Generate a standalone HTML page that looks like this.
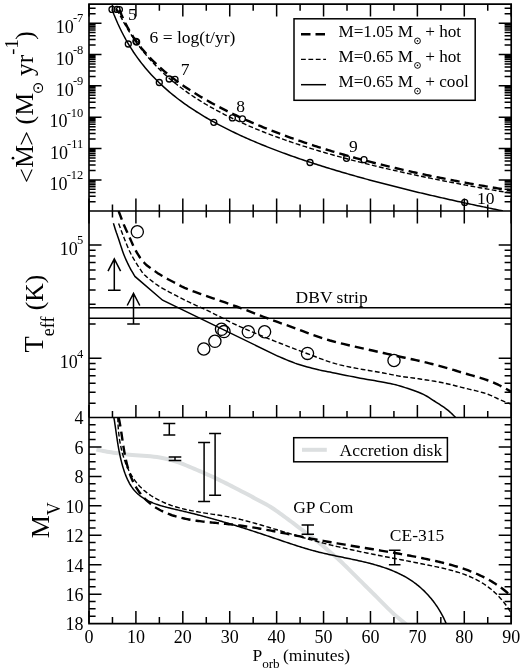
<!DOCTYPE html>
<html><head><meta charset="utf-8"><style>html,body{margin:0;padding:0;background:#fff;}svg{display:block;}text{filter:grayscale(1);}</style></head>
<body><svg width="523" height="670" viewBox="0 0 523 670">
<defs><clipPath id="c1"><rect x="89.0" y="4.1" width="422.2" height="206.9"/></clipPath><clipPath id="c2"><rect x="89.0" y="211.0" width="422.2" height="206.5"/></clipPath><clipPath id="c3"><rect x="89.0" y="417.5" width="422.2" height="206.10000000000002"/></clipPath></defs>
<rect width="523" height="670" fill="#fff"/>
<path d="M96.40 449.60 L97.33 449.78 L98.51 450.02 L99.91 450.31 L101.49 450.63 L103.24 450.97 L105.11 451.32 L107.07 451.67 L109.10 452.00 L111.21 452.33 L113.42 452.66 L115.76 453.00 L118.21 453.35 L120.77 453.70 L123.46 454.04 L126.27 454.37 L129.20 454.70 L132.37 455.00 L135.81 455.27 L139.45 455.53 L143.17 455.79 L146.88 456.06 L150.49 456.36 L153.89 456.70 L157.00 457.10 L159.78 457.54 L162.32 457.99 L164.68 458.46 L166.92 458.98 L169.11 459.53 L171.31 460.15 L173.58 460.84 L176.00 461.60 L178.54 462.46 L181.13 463.40 L183.76 464.42 L186.43 465.49 L189.10 466.61 L191.78 467.74 L194.45 468.88 L197.10 470.00 L199.73 471.12 L202.36 472.25 L204.98 473.40 L207.61 474.56 L210.23 475.74 L212.85 476.94 L215.48 478.16 L218.10 479.40 L220.76 480.68 L223.47 482.02 L226.20 483.38 L228.92 484.76 L231.60 486.13 L234.21 487.48 L236.72 488.77 L239.10 490.00 L241.34 491.16 L243.45 492.25 L245.46 493.31 L247.41 494.34 L249.31 495.35 L251.19 496.35 L253.08 497.37 L255.00 498.40 L256.94 499.43 L258.87 500.45 L260.78 501.45 L262.69 502.46 L264.59 503.48 L266.49 504.54 L268.39 505.64 L270.30 506.80 L272.21 508.02 L274.12 509.29 L276.04 510.61 L277.95 511.96 L279.86 513.33 L281.78 514.71 L283.69 516.11 L285.60 517.50 L287.51 518.90 L289.43 520.32 L291.34 521.75 L293.25 523.20 L295.16 524.65 L297.07 526.11 L298.99 527.56 L300.90 529.00 L302.81 530.43 L304.72 531.85 L306.64 533.26 L308.55 534.68 L310.46 536.10 L312.37 537.54 L314.29 539.01 L316.20 540.50 L318.14 542.05 L320.13 543.66 L322.14 545.31 L324.14 546.97 L326.10 548.61 L328.00 550.21 L329.81 551.75 L331.50 553.20 L333.01 554.50 L334.35 555.64 L335.56 556.70 L336.73 557.73 L337.91 558.79 L339.18 559.95 L340.58 561.27 L342.20 562.80 L344.04 564.57 L346.04 566.53 L348.17 568.63 L350.39 570.83 L352.66 573.09 L354.95 575.37 L357.21 577.62 L359.40 579.80 L361.55 581.93 L363.70 584.07 L365.85 586.21 L368.00 588.34 L370.15 590.48 L372.30 592.62 L374.45 594.76 L376.60 596.90 L378.78 599.08 L381.01 601.33 L383.25 603.60 L385.48 605.86 L387.68 608.07 L389.82 610.19 L391.87 612.18 L393.80 614.00 L395.69 615.70 L397.59 617.34 L399.45 618.88 L401.22 620.32 L402.87 621.62 L404.32 622.77 L405.55 623.74 L406.50 624.50" fill="none" stroke="#dcdfe0" stroke-width="4" stroke-linejoin="round" clip-path="url(#c3)"/>
<path d="M112.00 9.45 L113.96 14.52 L115.93 19.27 L117.89 23.74 L119.86 27.97 L121.82 31.96 L123.79 35.76 L125.75 39.36 L127.72 42.79 L129.68 46.07 L131.65 49.20 L133.61 52.21 L135.58 55.09 L137.54 57.85 L139.51 60.51 L141.47 63.08 L143.44 65.55 L145.40 67.94 L147.37 70.25 L149.33 72.49 L151.30 74.65 L153.26 76.76 L155.23 78.79 L157.19 80.77 L159.16 82.70 L161.12 84.57 L163.09 86.40 L165.05 88.17 L167.02 89.91 L168.98 91.60 L170.94 93.25 L172.91 94.86 L174.87 96.43 L176.84 97.97 L178.80 99.48 L180.77 100.95 L182.73 102.40 L184.70 103.81 L186.66 105.20 L188.63 106.56 L190.59 107.90 L192.56 109.21 L194.52 110.49 L196.49 111.75 L198.45 112.99 L200.42 114.21 L202.38 115.41 L204.35 116.59 L206.31 117.75 L208.28 118.89 L210.24 120.02 L212.21 121.12 L214.17 122.21 L216.14 123.28 L218.10 124.34 L220.07 125.38 L222.03 126.41 L223.99 127.43 L225.96 128.43 L227.92 129.41 L229.89 130.39 L231.85 131.35 L233.82 132.30 L235.78 133.23 L237.75 134.16 L239.71 135.07 L241.68 135.97 L243.64 136.87 L245.61 137.75 L247.57 138.62 L249.54 139.48 L251.50 140.33 L253.47 141.18 L255.43 142.01 L257.40 142.84 L259.36 143.65 L261.33 144.46 L263.29 145.26 L265.26 146.05 L267.22 146.84 L269.19 147.61 L271.15 148.38 L273.12 149.14 L275.08 149.90 L277.05 150.64 L279.01 151.38 L280.97 152.12 L282.94 152.84 L284.90 153.56 L286.87 154.28 L288.83 154.99 L290.80 155.69 L292.76 156.38 L294.73 157.07 L296.69 157.76 L298.66 158.44 L300.62 159.11 L302.59 159.78 L304.55 160.44 L306.52 161.10 L308.48 161.75 L310.45 162.40 L312.41 163.04 L314.38 163.68 L316.34 164.32 L318.31 164.94 L320.27 165.57 L322.24 166.19 L324.20 166.80 L326.17 167.42 L328.13 168.02 L330.10 168.63 L332.06 169.22 L334.03 169.82 L335.99 170.41 L337.95 171.00 L339.92 171.58 L341.88 172.16 L343.85 172.74 L345.81 173.31 L347.78 173.88 L349.74 174.44 L351.71 175.01 L353.67 175.56 L355.64 176.12 L357.60 176.67 L359.57 177.22 L361.53 177.77 L363.50 178.31 L365.46 178.85 L367.43 179.38 L369.39 179.92 L371.36 180.45 L373.32 180.98 L375.29 181.50 L377.25 182.02 L379.22 182.54 L381.18 183.06 L383.15 183.57 L385.11 184.08 L387.08 184.59 L389.04 185.10 L391.01 185.60 L392.97 186.10 L394.93 186.60 L396.90 187.09 L398.86 187.59 L400.83 188.08 L402.79 188.57 L404.76 189.05 L406.72 189.54 L408.69 190.02 L410.65 190.50 L412.62 190.98 L414.58 191.45 L416.55 191.92 L418.51 192.40 L420.48 192.86 L422.44 193.33 L424.41 193.80 L426.37 194.26 L428.34 194.72 L430.30 195.18 L432.27 195.63 L434.23 196.09 L436.20 196.54 L438.16 196.99 L440.13 197.44 L442.09 197.89 L444.06 198.33 L446.02 198.78 L447.98 199.22 L449.95 199.66 L451.91 200.10 L453.88 200.54 L455.84 200.97 L457.81 201.40 L459.77 201.84 L461.74 202.27 L463.70 202.69 L465.67 203.12 L467.63 203.55 L469.60 203.97 L471.56 204.39 L473.53 204.81 L475.49 205.23 L477.46 205.65 L479.42 206.07 L481.39 206.48 L483.35 206.89 L485.32 207.30 L487.28 207.71 L489.25 208.12 L491.21 208.53 L493.18 208.94 L495.14 209.34 L497.11 209.75 L499.07 210.15 L501.04 210.55 L503.00 210.95" fill="none" stroke="#000" stroke-width="1.5" clip-path="url(#c1)"/>
<path d="M117.00 9.29 L118.98 13.35 L120.96 17.23 L122.95 20.94 L124.93 24.49 L126.91 27.90 L128.89 31.17 L130.88 34.32 L132.86 37.34 L134.84 40.25 L136.82 43.06 L138.81 45.76 L140.79 48.38 L142.77 50.90 L144.75 53.35 L146.74 55.71 L148.72 58.01 L150.70 60.23 L152.68 62.39 L154.67 64.49 L156.65 66.53 L158.63 68.51 L160.61 70.44 L162.60 72.32 L164.58 74.15 L166.56 75.93 L168.54 77.67 L170.53 79.37 L172.51 81.03 L174.49 82.66 L176.47 84.24 L178.45 85.79 L180.44 87.31 L182.42 88.79 L184.40 90.25 L186.38 91.67 L188.37 93.06 L190.35 94.43 L192.33 95.77 L194.31 97.09 L196.30 98.38 L198.28 99.64 L200.26 100.89 L202.24 102.11 L204.23 103.31 L206.21 104.49 L208.19 105.65 L210.17 106.79 L212.16 107.91 L214.14 109.02 L216.12 110.10 L218.10 111.17 L220.09 112.22 L222.07 113.26 L224.05 114.28 L226.03 115.29 L228.02 116.28 L230.00 117.25 L231.98 118.22 L233.96 119.17 L235.94 120.10 L237.93 121.03 L239.91 121.94 L241.89 122.84 L243.87 123.72 L245.86 124.60 L247.84 125.46 L249.82 126.32 L251.80 127.16 L253.79 127.99 L255.77 128.82 L257.75 129.63 L259.73 130.43 L261.72 131.23 L263.70 132.01 L265.68 132.79 L267.66 133.55 L269.65 134.31 L271.63 135.06 L273.61 135.81 L275.59 136.54 L277.58 137.27 L279.56 137.98 L281.54 138.70 L283.52 139.40 L285.51 140.10 L287.49 140.78 L289.47 141.47 L291.45 142.14 L293.43 142.81 L295.42 143.48 L297.40 144.13 L299.38 144.78 L301.36 145.43 L303.35 146.06 L305.33 146.70 L307.31 147.32 L309.29 147.94 L311.28 148.56 L313.26 149.17 L315.24 149.77 L317.22 150.37 L319.21 150.97 L321.19 151.56 L323.17 152.14 L325.15 152.72 L327.14 153.30 L329.12 153.87 L331.10 154.43 L333.08 154.99 L335.07 155.55 L337.05 156.10 L339.03 156.65 L341.01 157.19 L342.99 157.73 L344.98 158.27 L346.96 158.80 L348.94 159.33 L350.92 159.85 L352.91 160.37 L354.89 160.88 L356.87 161.40 L358.85 161.90 L360.84 162.41 L362.82 162.91 L364.80 163.41 L366.78 163.90 L368.77 164.39 L370.75 164.88 L372.73 165.36 L374.71 165.85 L376.70 166.32 L378.68 166.80 L380.66 167.27 L382.64 167.74 L384.63 168.20 L386.61 168.67 L388.59 169.13 L390.57 169.58 L392.56 170.04 L394.54 170.49 L396.52 170.94 L398.50 171.38 L400.48 171.82 L402.47 172.27 L404.45 172.70 L406.43 173.14 L408.41 173.57 L410.40 174.00 L412.38 174.43 L414.36 174.85 L416.34 175.28 L418.33 175.70 L420.31 176.11 L422.29 176.53 L424.27 176.94 L426.26 177.35 L428.24 177.76 L430.22 178.17 L432.20 178.57 L434.19 178.98 L436.17 179.38 L438.15 179.77 L440.13 180.17 L442.12 180.56 L444.10 180.96 L446.08 181.35 L448.06 181.73 L450.05 182.12 L452.03 182.50 L454.01 182.89 L455.99 183.27 L457.97 183.64 L459.96 184.02 L461.94 184.39 L463.92 184.77 L465.90 185.14 L467.89 185.51 L469.87 185.88 L471.85 186.24 L473.83 186.61 L475.82 186.97 L477.80 187.33 L479.78 187.69 L481.76 188.04 L483.75 188.40 L485.73 188.76 L487.71 189.11 L489.69 189.46 L491.68 189.81 L493.66 190.16 L495.64 190.50 L497.62 190.85 L499.61 191.19 L501.59 191.53 L503.57 191.87 L505.55 192.21 L507.54 192.55 L509.52 192.89 L511.50 193.22" fill="none" stroke="#000" stroke-width="1.4" stroke-dasharray="4.8 2.4" clip-path="url(#c1)"/>
<path d="M119.40 9.66 L121.37 14.55 L123.34 19.00 L125.31 23.10 L127.28 26.89 L129.25 30.41 L131.22 33.71 L133.19 36.81 L135.16 39.74 L137.13 42.51 L139.10 45.15 L141.07 47.67 L143.04 50.07 L145.01 52.38 L146.98 54.60 L148.96 56.74 L150.93 58.80 L152.90 60.79 L154.87 62.73 L156.84 64.60 L158.81 66.42 L160.78 68.18 L162.75 69.91 L164.72 71.58 L166.69 73.22 L168.66 74.82 L170.63 76.38 L172.60 77.90 L174.57 79.40 L176.54 80.86 L178.51 82.29 L180.48 83.70 L182.45 85.07 L184.42 86.43 L186.39 87.76 L188.36 89.06 L190.33 90.34 L192.30 91.61 L194.27 92.85 L196.24 94.07 L198.21 95.27 L200.18 96.46 L202.15 97.62 L204.13 98.77 L206.10 99.90 L208.07 101.02 L210.04 102.12 L212.01 103.21 L213.98 104.28 L215.95 105.34 L217.92 106.38 L219.89 107.41 L221.86 108.43 L223.83 109.43 L225.80 110.42 L227.77 111.40 L229.74 112.37 L231.71 113.33 L233.68 114.28 L235.65 115.21 L237.62 116.14 L239.59 117.05 L241.56 117.95 L243.53 118.85 L245.50 119.73 L247.47 120.61 L249.44 121.47 L251.41 122.33 L253.38 123.18 L255.35 124.01 L257.32 124.85 L259.29 125.67 L261.27 126.48 L263.24 127.29 L265.21 128.08 L267.18 128.87 L269.15 129.66 L271.12 130.43 L273.09 131.20 L275.06 131.96 L277.03 132.71 L279.00 133.46 L280.97 134.19 L282.94 134.93 L284.91 135.65 L286.88 136.37 L288.85 137.08 L290.82 137.79 L292.79 138.49 L294.76 139.18 L296.73 139.87 L298.70 140.55 L300.67 141.23 L302.64 141.90 L304.61 142.56 L306.58 143.22 L308.55 143.87 L310.52 144.52 L312.49 145.16 L314.46 145.80 L316.44 146.43 L318.41 147.05 L320.38 147.67 L322.35 148.29 L324.32 148.90 L326.29 149.51 L328.26 150.11 L330.23 150.70 L332.20 151.30 L334.17 151.88 L336.14 152.46 L338.11 153.04 L340.08 153.62 L342.05 154.18 L344.02 154.75 L345.99 155.31 L347.96 155.86 L349.93 156.42 L351.90 156.96 L353.87 157.51 L355.84 158.04 L357.81 158.58 L359.78 159.11 L361.75 159.64 L363.72 160.16 L365.69 160.68 L367.66 161.19 L369.63 161.71 L371.61 162.21 L373.58 162.72 L375.55 163.22 L377.52 163.71 L379.49 164.21 L381.46 164.70 L383.43 165.18 L385.40 165.67 L387.37 166.15 L389.34 166.62 L391.31 167.09 L393.28 167.56 L395.25 168.03 L397.22 168.49 L399.19 168.95 L401.16 169.41 L403.13 169.86 L405.10 170.31 L407.07 170.75 L409.04 171.20 L411.01 171.64 L412.98 172.08 L414.95 172.51 L416.92 172.94 L418.89 173.37 L420.86 173.80 L422.83 174.22 L424.80 174.64 L426.77 175.05 L428.75 175.47 L430.72 175.88 L432.69 176.29 L434.66 176.69 L436.63 177.10 L438.60 177.50 L440.57 177.90 L442.54 178.29 L444.51 178.68 L446.48 179.07 L448.45 179.46 L450.42 179.85 L452.39 180.23 L454.36 180.61 L456.33 180.99 L458.30 181.36 L460.27 181.73 L462.24 182.10 L464.21 182.47 L466.18 182.84 L468.15 183.20 L470.12 183.56 L472.09 183.92 L474.06 184.27 L476.03 184.63 L478.00 184.98 L479.97 185.33 L481.94 185.67 L483.92 186.02 L485.89 186.36 L487.86 186.70 L489.83 187.04 L491.80 187.37 L493.77 187.71 L495.74 188.04 L497.71 188.37 L499.68 188.70 L501.65 189.02 L503.62 189.35 L505.59 189.67 L507.56 189.99 L509.53 190.30 L511.50 190.62" fill="none" stroke="#000" stroke-width="2.4" stroke-dasharray="9.2 5.1" clip-path="url(#c1)"/>
<g fill="none" stroke="#000" stroke-width="1.3"><circle cx="112.0" cy="9.4" r="3.0"/><circle cx="117.0" cy="9.4" r="3.0"/><circle cx="119.4" cy="9.6" r="3.0"/><circle cx="128.3" cy="44.0" r="3.0"/><circle cx="135.9" cy="41.3" r="3.0"/><circle cx="136.6" cy="42.0" r="3.0"/><circle cx="159.3" cy="82.5" r="3.0"/><circle cx="169.2" cy="79.0" r="3.0"/><circle cx="175.0" cy="79.3" r="3.0"/><circle cx="213.8" cy="122.3" r="3.0"/><circle cx="232.4" cy="117.9" r="3.0"/><circle cx="242.4" cy="118.8" r="3.0"/><circle cx="310.0" cy="162.5" r="3.0"/><circle cx="346.5" cy="158.3" r="3.0"/><circle cx="364.0" cy="159.7" r="3.0"/><circle cx="464.7" cy="202.4" r="3.0"/></g>
<path d="M113.40 223.20 L113.60 223.86 L113.88 224.75 L114.21 225.82 L114.58 226.99 L114.95 228.21 L115.33 229.41 L115.69 230.53 L116.00 231.50 L116.25 232.26 L116.45 232.84 L116.63 233.32 L116.80 233.79 L117.00 234.33 L117.25 235.03 L117.57 235.95 L118.00 237.20 L118.54 238.83 L119.19 240.80 L119.90 243.01 L120.67 245.37 L121.47 247.78 L122.27 250.15 L123.05 252.39 L123.80 254.40 L124.52 256.22 L125.24 257.95 L125.96 259.60 L126.67 261.19 L127.39 262.71 L128.10 264.18 L128.80 265.61 L129.50 267.00 L130.23 268.39 L131.00 269.80 L131.78 271.17 L132.56 272.49 L133.28 273.70 L133.94 274.79 L134.49 275.70 L134.90 276.40 L162.60 300.20 L278.20 356.30 L279.68 356.91 L281.65 357.74 L284.00 358.73 L286.61 359.82 L289.36 360.95 L292.16 362.06 L294.87 363.10 L297.40 364.00 L299.83 364.79 L302.31 365.55 L304.82 366.27 L307.31 366.96 L309.75 367.60 L312.12 368.21 L314.38 368.77 L316.50 369.30 L318.36 369.75 L319.96 370.11 L321.39 370.42 L322.77 370.69 L324.21 370.97 L325.82 371.28 L327.71 371.64 L330.00 372.10 L332.71 372.65 L335.77 373.28 L339.08 373.96 L342.58 374.68 L346.17 375.40 L349.80 376.13 L353.36 376.84 L356.80 377.50 L360.21 378.14 L363.72 378.77 L367.27 379.39 L370.79 380.01 L374.24 380.61 L377.54 381.19 L380.65 381.76 L383.50 382.30 L386.02 382.79 L388.23 383.21 L390.22 383.60 L392.08 383.98 L393.90 384.38 L395.77 384.83 L397.77 385.36 L400.00 386.00 L402.50 386.76 L405.20 387.61 L408.04 388.53 L410.93 389.51 L413.78 390.52 L416.53 391.54 L419.10 392.54 L421.40 393.50 L423.42 394.43 L425.23 395.35 L426.86 396.26 L428.39 397.18 L429.84 398.11 L431.28 399.05 L432.75 400.01 L434.30 401.00 L435.93 402.03 L437.60 403.09 L439.29 404.17 L440.96 405.27 L442.60 406.37 L444.19 407.47 L445.70 408.55 L447.10 409.60 L448.44 410.68 L449.77 411.83 L451.05 413.00 L452.25 414.14 L453.35 415.21 L454.33 416.18 L455.16 416.99 L455.80 417.60" fill="none" stroke="#000" stroke-width="1.5" clip-path="url(#c2)"/>
<path d="M118.60 223.40 L119.00 224.46 L119.52 225.88 L120.15 227.56 L120.84 229.44 L121.58 231.42 L122.34 233.43 L123.09 235.38 L123.80 237.20 L124.48 238.94 L125.18 240.71 L125.87 242.48 L126.58 244.25 L127.30 246.00 L128.02 247.72 L128.76 249.39 L129.50 251.00 L130.25 252.54 L131.00 254.02 L131.77 255.45 L132.54 256.84 L133.32 258.22 L134.13 259.60 L134.95 260.99 L135.80 262.40 L136.73 263.91 L137.77 265.54 L138.85 267.21 L139.94 268.86 L140.98 270.43 L141.92 271.83 L142.71 273.01 L143.30 273.90 L143.81 274.34 L144.47 274.91 L145.25 275.59 L146.14 276.36 L147.10 277.17 L148.11 278.02 L149.15 278.87 L150.20 279.70 L151.25 280.52 L152.32 281.35 L153.42 282.21 L154.57 283.09 L155.79 283.99 L157.10 284.90 L158.49 285.84 L160.00 286.80 L161.65 287.79 L163.44 288.82 L165.33 289.89 L167.31 290.96 L169.32 292.04 L171.35 293.12 L173.35 294.17 L175.30 295.20 L177.21 296.20 L179.12 297.19 L181.04 298.17 L182.95 299.14 L184.86 300.10 L186.78 301.05 L188.69 301.98 L190.60 302.90 L192.51 303.80 L194.42 304.66 L196.34 305.52 L198.25 306.36 L200.16 307.20 L202.07 308.04 L203.99 308.91 L205.90 309.80 L207.81 310.72 L209.72 311.65 L211.64 312.60 L213.55 313.56 L215.46 314.52 L217.38 315.48 L219.29 316.45 L221.20 317.40 L223.02 318.32 L224.72 319.19 L226.36 320.05 L228.03 320.91 L229.80 321.81 L231.75 322.78 L233.96 323.83 L236.50 325.00 L239.33 326.28 L242.36 327.63 L245.59 329.06 L249.03 330.56 L252.68 332.12 L256.54 333.75 L260.61 335.45 L264.90 337.20 L269.56 339.07 L274.65 341.10 L280.05 343.23 L285.61 345.40 L291.20 347.57 L296.71 349.67 L301.98 351.67 L306.90 353.50 L311.39 355.18 L315.56 356.77 L319.51 358.28 L323.36 359.71 L327.22 361.08 L331.20 362.40 L335.43 363.67 L340.00 364.90 L345.12 366.10 L350.78 367.27 L356.74 368.39 L362.79 369.46 L368.71 370.47 L374.28 371.40 L379.28 372.24 L383.50 373.00 L386.82 373.64 L389.41 374.15 L391.45 374.57 L393.13 374.92 L394.64 375.23 L396.16 375.53 L397.89 375.84 L400.00 376.20 L402.44 376.58 L405.01 376.95 L407.67 377.31 L410.39 377.68 L413.16 378.04 L415.94 378.41 L418.69 378.80 L421.40 379.20 L424.07 379.61 L426.75 380.02 L429.42 380.44 L432.10 380.86 L434.77 381.31 L437.45 381.77 L440.12 382.27 L442.80 382.80 L445.47 383.37 L448.15 383.98 L450.82 384.62 L453.49 385.28 L456.17 385.96 L458.84 386.64 L461.52 387.32 L464.20 388.00 L466.93 388.67 L469.72 389.33 L472.55 390.00 L475.36 390.67 L478.12 391.35 L480.79 392.05 L483.33 392.76 L485.70 393.50 L487.91 394.28 L489.98 395.10 L491.95 395.96 L493.81 396.82 L495.60 397.67 L497.31 398.50 L498.97 399.28 L500.60 400.00 L502.23 400.68 L503.86 401.35 L505.46 402.00 L506.98 402.61 L508.39 403.16 L509.64 403.66 L510.69 404.07 L511.50 404.40" fill="none" stroke="#000" stroke-width="1.4" stroke-dasharray="4.8 2.4" clip-path="url(#c2)"/>
<path d="M118.60 211.00 L119.00 212.06 L119.52 213.47 L120.15 215.15 L120.84 217.01 L121.58 218.98 L122.34 220.95 L123.09 222.85 L123.80 224.60 L124.49 226.23 L125.20 227.85 L125.92 229.45 L126.65 231.03 L127.38 232.60 L128.10 234.15 L128.81 235.68 L129.50 237.20 L130.17 238.70 L130.81 240.18 L131.44 241.65 L132.06 243.09 L132.69 244.52 L133.33 245.94 L134.00 247.33 L134.70 248.70 L135.44 250.07 L136.21 251.45 L137.01 252.83 L137.82 254.17 L138.63 255.48 L139.44 256.73 L140.23 257.91 L141.00 259.00 L141.78 260.02 L142.60 261.00 L143.43 261.93 L144.24 262.79 L145.01 263.57 L145.69 264.26 L146.26 264.84 L146.70 265.30 L147.71 266.02 L149.04 266.99 L150.63 268.15 L152.39 269.43 L154.28 270.77 L156.22 272.12 L158.15 273.42 L160.00 274.60 L161.82 275.70 L163.68 276.79 L165.59 277.86 L167.53 278.93 L169.47 279.97 L171.43 281.00 L173.37 282.01 L175.30 283.00 L177.00 283.90 L178.41 284.69 L179.69 285.43 L181.04 286.16 L182.62 286.96 L184.62 287.88 L187.22 288.97 L190.60 290.30 L194.95 291.92 L200.20 293.80 L206.09 295.86 L212.37 298.04 L218.81 300.27 L225.14 302.47 L231.12 304.57 L236.50 306.50 L241.43 308.32 L246.20 310.12 L250.80 311.88 L255.21 313.58 L259.41 315.21 L263.39 316.75 L267.12 318.19 L270.60 319.50 L273.59 320.61 L276.00 321.49 L278.05 322.22 L279.93 322.88 L281.86 323.55 L284.05 324.31 L286.69 325.23 L290.00 326.40 L293.92 327.83 L298.24 329.46 L302.90 331.23 L307.87 333.10 L313.11 335.01 L318.57 336.92 L324.21 338.76 L330.00 340.50 L336.29 342.20 L343.29 343.94 L350.70 345.69 L358.22 347.40 L365.55 349.03 L372.41 350.53 L378.49 351.87 L383.50 353.00 L387.30 353.88 L390.11 354.52 L392.18 354.99 L393.76 355.34 L395.08 355.63 L396.40 355.91 L397.96 356.25 L400.00 356.70 L402.44 357.23 L405.01 357.79 L407.67 358.36 L410.39 358.94 L413.16 359.54 L415.94 360.15 L418.69 360.77 L421.40 361.40 L424.07 362.03 L426.75 362.68 L429.42 363.33 L432.10 363.99 L434.77 364.67 L437.45 365.36 L440.12 366.07 L442.80 366.80 L445.47 367.55 L448.15 368.33 L450.82 369.13 L453.49 369.94 L456.17 370.76 L458.84 371.58 L461.52 372.39 L464.20 373.20 L466.96 374.01 L469.82 374.85 L472.73 375.69 L475.62 376.53 L478.42 377.35 L481.08 378.15 L483.53 378.90 L485.70 379.60 L487.57 380.24 L489.19 380.82 L490.60 381.37 L491.86 381.88 L493.02 382.38 L494.13 382.87 L495.24 383.38 L496.40 383.90 L497.58 384.44 L498.72 384.99 L499.83 385.53 L500.91 386.08 L501.95 386.62 L502.96 387.16 L503.94 387.69 L504.90 388.20 L505.86 388.72 L506.84 389.27 L507.80 389.83 L508.73 390.37 L509.59 390.88 L510.36 391.33 L511.00 391.71 L511.50 392.00" fill="none" stroke="#000" stroke-width="2.4" stroke-dasharray="9.2 5.1" clip-path="url(#c2)"/>
<g fill="none" stroke="#000" stroke-width="1.3"><circle cx="137.3" cy="231.8" r="6.1"/><circle cx="203.8" cy="349" r="6.1"/><circle cx="214.9" cy="341.3" r="6.1"/><circle cx="221.5" cy="329.3" r="6.1"/><circle cx="224" cy="331.6" r="6.1"/><circle cx="248.3" cy="331.8" r="6.1"/><circle cx="264.6" cy="331.8" r="6.1"/><circle cx="307.5" cy="353.4" r="6.1"/><circle cx="394" cy="360.5" r="6.1"/></g>
<path d="M89.0 307.8H511.2M89.0 318.3H511.2" stroke="#000" stroke-width="1.5"/>
<path d="M114.3 290.2V258.8M108 271.2L114.3 258.8L120.6 271.2M108 290.2H120.6M133.5 324V293.3M127.2 305.5L133.5 293.3L139.8 305.5M127.2 324H139.8" fill="none" stroke="#000" stroke-width="1.5"/>
<path d="M113.89 417.56 L114.13 419.02 L114.37 420.48 L114.59 421.92 L114.81 423.36 L115.02 424.78 L115.23 426.20 L115.44 427.61 L115.64 429.01 L115.84 430.41 L116.04 431.80 L116.24 433.18 L116.43 434.56 L116.63 435.94 L116.83 437.31 L117.04 438.68 L117.24 440.05 L117.45 441.42 L117.67 442.79 L117.89 444.16 L118.11 445.53 L118.35 446.91 L118.59 448.28 L118.84 449.66 L119.10 451.04 L119.37 452.43 L119.65 453.82 L119.94 455.22 L120.24 456.63 L120.56 458.04 L120.89 459.47 L121.24 460.90 L121.60 462.34 L121.98 463.78 L122.37 465.22 L122.79 466.67 L123.22 468.12 L123.67 469.56 L124.14 470.99 L124.64 472.42 L125.15 473.84 L125.69 475.24 L126.25 476.63 L126.84 478.00 L127.45 479.35 L128.09 480.68 L128.75 481.98 L129.44 483.26 L130.16 484.51 L130.91 485.73 L131.69 486.92 L132.50 488.07 L133.35 489.18 L134.22 490.25 L135.13 491.29 L136.07 492.28 L137.04 493.23 L138.04 494.14 L139.07 495.02 L140.13 495.86 L141.22 496.67 L142.33 497.44 L143.46 498.18 L144.63 498.89 L145.81 499.57 L147.02 500.22 L148.24 500.84 L149.49 501.44 L150.76 502.01 L152.04 502.56 L153.34 503.09 L154.66 503.59 L155.99 504.08 L157.33 504.55 L158.69 505.00 L160.06 505.43 L161.44 505.85 L162.83 506.25 L164.23 506.64 L165.64 507.02 L167.05 507.39 L168.47 507.75 L169.90 508.10 L171.32 508.44 L172.75 508.78 L174.18 509.12 L175.62 509.45 L177.05 509.78 L178.48 510.11 L179.91 510.44 L181.33 510.77 L182.75 511.11 L184.17 511.44 L185.58 511.78 L186.99 512.12 L188.40 512.46 L189.80 512.81 L191.20 513.16 L192.60 513.50 L193.99 513.85 L195.38 514.21 L196.77 514.56 L198.16 514.92 L199.54 515.28 L200.92 515.64 L202.30 516.00 L203.68 516.37 L205.05 516.74 L206.42 517.11 L207.79 517.48 L209.16 517.85 L210.52 518.23 L211.89 518.60 L213.25 518.98 L214.61 519.37 L215.97 519.75 L217.32 520.14 L218.68 520.52 L220.03 520.91 L221.39 521.31 L222.74 521.70 L224.09 522.10 L225.44 522.50 L226.79 522.90 L228.14 523.30 L229.49 523.70 L230.84 524.11 L232.19 524.52 L233.53 524.93 L234.88 525.34 L236.23 525.76 L237.57 526.18 L238.92 526.59 L240.27 527.02 L241.61 527.44 L242.96 527.86 L244.31 528.29 L245.66 528.72 L247.00 529.15 L248.35 529.59 L249.70 530.02 L251.05 530.46 L252.41 530.90 L253.76 531.34 L255.11 531.78 L256.47 532.23 L257.82 532.68 L259.18 533.13 L260.54 533.58 L261.90 534.03 L263.26 534.49 L264.63 534.95 L265.99 535.41 L267.36 535.87 L268.73 536.33 L270.10 536.79 L271.47 537.26 L272.84 537.72 L274.21 538.19 L275.58 538.65 L276.96 539.12 L278.33 539.58 L279.70 540.05 L281.07 540.51 L282.44 540.97 L283.81 541.43 L285.18 541.89 L286.55 542.35 L287.92 542.81 L289.28 543.26 L290.65 543.71 L292.01 544.16 L293.37 544.60 L294.73 545.04 L296.08 545.48 L297.44 545.92 L298.79 546.35 L300.13 546.77 L301.48 547.19 L302.82 547.61 L304.16 548.02 L305.50 548.43 L306.84 548.83 L308.18 549.22 L309.52 549.61 L310.86 549.99 L312.21 550.37 L313.55 550.74 L314.91 551.10 L316.27 551.46 L317.63 551.81 L319.01 552.15 L320.38 552.48 L321.76 552.82 L323.15 553.14 L324.53 553.46 L325.93 553.78 L327.32 554.09 L328.72 554.40 L330.13 554.70 L331.53 555.00 L332.94 555.30 L334.35 555.60 L335.77 555.90 L337.18 556.19 L338.60 556.48 L340.02 556.77 L341.44 557.06 L342.86 557.35 L344.29 557.64 L345.71 557.94 L347.13 558.23 L348.56 558.52 L349.98 558.82 L351.41 559.12 L352.83 559.42 L354.25 559.72 L355.68 560.02 L357.10 560.33 L358.52 560.65 L359.93 560.97 L361.35 561.29 L362.76 561.62 L364.17 561.95 L365.58 562.29 L366.99 562.63 L368.39 562.99 L369.79 563.34 L371.19 563.71 L372.58 564.08 L373.97 564.46 L375.35 564.85 L376.73 565.25 L378.11 565.66 L379.48 566.08 L380.84 566.50 L382.20 566.94 L383.56 567.39 L384.91 567.85 L386.25 568.32 L387.58 568.80 L388.91 569.29 L390.24 569.80 L391.55 570.32 L392.86 570.85 L394.16 571.39 L395.45 571.95 L396.74 572.52 L398.01 573.11 L399.28 573.72 L400.54 574.33 L401.79 574.97 L403.04 575.62 L404.27 576.28 L405.49 576.97 L406.70 577.67 L407.91 578.38 L409.10 579.12 L410.28 579.87 L411.45 580.65 L412.61 581.44 L413.76 582.25 L414.90 583.08 L416.03 583.93 L417.14 584.80 L418.24 585.69 L419.33 586.60 L420.41 587.52 L421.47 588.47 L422.52 589.43 L423.56 590.41 L424.58 591.41 L425.59 592.42 L426.59 593.45 L427.57 594.49 L428.53 595.56 L429.48 596.63 L430.42 597.72 L431.34 598.83 L432.24 599.95 L433.13 601.08 L434.00 602.23 L434.86 603.38 L435.70 604.56 L436.52 605.74 L437.32 606.94 L438.11 608.14 L438.88 609.36 L439.63 610.59 L440.36 611.83 L441.08 613.08 L441.77 614.34 L442.45 615.61 L443.10 616.89 L443.74 618.17 L444.36 619.47 L444.96 620.77 L445.53 622.08 L446.09 623.40 L446.63 624.72" fill="none" stroke="#000" stroke-width="1.5" clip-path="url(#c3)"/>
<path d="M117.88 417.37 L117.88 418.88 L117.91 420.40 L117.95 421.94 L118.01 423.48 L118.08 425.04 L118.17 426.61 L118.27 428.19 L118.40 429.77 L118.54 431.37 L118.70 432.97 L118.88 434.57 L119.07 436.18 L119.29 437.79 L119.52 439.40 L119.78 441.02 L120.05 442.63 L120.35 444.24 L120.67 445.85 L121.00 447.46 L121.36 449.06 L121.74 450.66 L122.15 452.25 L122.57 453.84 L123.02 455.41 L123.49 456.98 L123.99 458.54 L124.51 460.08 L125.05 461.61 L125.62 463.13 L126.21 464.64 L126.83 466.12 L127.47 467.60 L128.14 469.05 L128.84 470.49 L129.56 471.90 L130.32 473.30 L131.09 474.68 L131.90 476.03 L132.73 477.35 L133.60 478.66 L134.49 479.94 L135.41 481.19 L136.36 482.41 L137.34 483.60 L138.35 484.77 L139.39 485.90 L140.46 487.01 L141.55 488.09 L142.67 489.14 L143.82 490.16 L144.99 491.15 L146.19 492.12 L147.41 493.06 L148.65 493.97 L149.92 494.86 L151.21 495.73 L152.51 496.56 L153.84 497.37 L155.18 498.16 L156.55 498.92 L157.93 499.66 L159.32 500.38 L160.73 501.07 L162.16 501.74 L163.60 502.39 L165.05 503.01 L166.52 503.61 L168.00 504.19 L169.48 504.75 L170.98 505.29 L172.49 505.81 L174.00 506.31 L175.52 506.79 L177.05 507.25 L178.58 507.69 L180.12 508.11 L181.67 508.51 L183.22 508.90 L184.77 509.27 L186.33 509.63 L187.89 509.97 L189.46 510.30 L191.03 510.62 L192.60 510.93 L194.18 511.23 L195.75 511.52 L197.33 511.80 L198.91 512.07 L200.50 512.33 L202.08 512.59 L203.67 512.85 L205.25 513.10 L206.84 513.34 L208.43 513.59 L210.01 513.83 L211.60 514.07 L213.18 514.32 L214.77 514.56 L216.35 514.81 L217.93 515.05 L219.51 515.31 L221.09 515.56 L222.66 515.83 L224.23 516.10 L225.80 516.37 L227.36 516.66 L228.93 516.95 L230.48 517.26 L232.03 517.57 L233.58 517.90 L235.13 518.23 L236.67 518.57 L238.21 518.93 L239.74 519.29 L241.27 519.66 L242.80 520.03 L244.33 520.42 L245.85 520.81 L247.37 521.21 L248.89 521.61 L250.41 522.02 L251.93 522.44 L253.44 522.86 L254.96 523.29 L256.47 523.71 L257.99 524.15 L259.50 524.59 L261.01 525.03 L262.53 525.47 L264.04 525.92 L265.56 526.36 L267.07 526.81 L268.59 527.27 L270.10 527.72 L271.62 528.17 L273.13 528.63 L274.65 529.09 L276.17 529.54 L277.69 530.00 L279.21 530.46 L280.73 530.92 L282.25 531.38 L283.77 531.84 L285.29 532.30 L286.81 532.75 L288.33 533.21 L289.85 533.67 L291.38 534.13 L292.90 534.58 L294.42 535.03 L295.95 535.49 L297.47 535.94 L299.00 536.39 L300.53 536.83 L302.05 537.28 L303.58 537.72 L305.11 538.16 L306.64 538.60 L308.17 539.03 L309.70 539.46 L311.23 539.89 L312.76 540.31 L314.29 540.73 L315.82 541.15 L317.36 541.56 L318.89 541.97 L320.42 542.38 L321.96 542.78 L323.49 543.17 L325.03 543.56 L326.56 543.95 L328.10 544.34 L329.64 544.72 L331.18 545.10 L332.72 545.47 L334.25 545.84 L335.79 546.21 L337.33 546.57 L338.88 546.93 L340.42 547.29 L341.96 547.64 L343.50 547.99 L345.04 548.34 L346.59 548.69 L348.13 549.03 L349.68 549.37 L351.22 549.71 L352.77 550.05 L354.31 550.38 L355.86 550.71 L357.41 551.04 L358.95 551.37 L360.50 551.69 L362.05 552.02 L363.60 552.34 L365.15 552.66 L366.70 552.97 L368.25 553.29 L369.80 553.60 L371.35 553.92 L372.91 554.23 L374.46 554.54 L376.01 554.85 L377.56 555.16 L379.12 555.46 L380.67 555.77 L382.23 556.08 L383.78 556.38 L385.34 556.69 L386.90 556.99 L388.45 557.29 L390.01 557.59 L391.57 557.90 L393.12 558.20 L394.68 558.50 L396.24 558.80 L397.80 559.10 L399.36 559.41 L400.92 559.71 L402.48 560.01 L404.04 560.31 L405.60 560.62 L407.17 560.92 L408.73 561.22 L410.29 561.53 L411.85 561.83 L413.42 562.14 L414.98 562.45 L416.54 562.76 L418.11 563.07 L419.67 563.38 L421.24 563.69 L422.80 564.00 L424.37 564.32 L425.94 564.63 L427.50 564.95 L429.07 565.27 L430.64 565.59 L432.20 565.91 L433.77 566.24 L435.34 566.57 L436.90 566.91 L438.47 567.24 L440.03 567.59 L441.59 567.94 L443.14 568.30 L444.70 568.67 L446.25 569.04 L447.79 569.42 L449.33 569.82 L450.87 570.22 L452.40 570.64 L453.92 571.06 L455.44 571.50 L456.95 571.96 L458.46 572.42 L459.96 572.91 L461.45 573.40 L462.93 573.92 L464.40 574.45 L465.87 574.99 L467.32 575.56 L468.77 576.14 L470.20 576.75 L471.62 577.37 L473.04 578.01 L474.44 578.68 L475.83 579.37 L477.20 580.08 L478.57 580.81 L479.92 581.57 L481.26 582.36 L482.58 583.17 L483.89 584.00 L485.18 584.86 L486.46 585.75 L487.73 586.67 L488.98 587.61 L490.21 588.58 L491.42 589.58 L492.63 590.60 L493.81 591.64 L494.98 592.71 L496.13 593.81 L497.26 594.93 L498.38 596.08 L499.48 597.25 L500.56 598.44 L501.62 599.66 L502.67 600.90 L503.70 602.17 L504.71 603.46 L505.70 604.77 L506.67 606.10 L507.62 607.46 L508.56 608.84 L509.47 610.25 L510.37 611.67 L511.24 613.12" fill="none" stroke="#000" stroke-width="1.4" stroke-dasharray="4.8 2.4" clip-path="url(#c3)"/>
<path d="M118.66 417.51 L118.97 418.90 L119.26 420.31 L119.54 421.75 L119.82 423.20 L120.08 424.67 L120.34 426.15 L120.59 427.65 L120.83 429.17 L121.07 430.70 L121.30 432.24 L121.54 433.79 L121.77 435.36 L122.00 436.93 L122.23 438.51 L122.47 440.10 L122.70 441.70 L122.94 443.30 L123.19 444.91 L123.44 446.52 L123.70 448.13 L123.97 449.74 L124.25 451.36 L124.54 452.98 L124.84 454.59 L125.15 456.20 L125.47 457.81 L125.81 459.42 L126.17 461.01 L126.54 462.61 L126.93 464.19 L127.34 465.77 L127.77 467.34 L128.22 468.90 L128.70 470.45 L129.19 471.98 L129.71 473.51 L130.26 475.01 L130.83 476.51 L131.43 477.99 L132.06 479.45 L132.72 480.89 L133.41 482.31 L134.13 483.72 L134.87 485.10 L135.65 486.46 L136.45 487.81 L137.28 489.13 L138.14 490.42 L139.03 491.69 L139.95 492.94 L140.89 494.17 L141.86 495.36 L142.86 496.53 L143.88 497.68 L144.94 498.79 L146.02 499.88 L147.12 500.93 L148.26 501.96 L149.41 502.95 L150.60 503.91 L151.81 504.84 L153.04 505.74 L154.30 506.61 L155.58 507.45 L156.88 508.26 L158.20 509.03 L159.53 509.78 L160.88 510.50 L162.25 511.19 L163.63 511.85 L165.02 512.48 L166.43 513.09 L167.85 513.67 L169.28 514.22 L170.72 514.75 L172.18 515.26 L173.64 515.74 L175.12 516.20 L176.61 516.64 L178.10 517.06 L179.61 517.46 L181.12 517.83 L182.65 518.19 L184.18 518.54 L185.72 518.86 L187.27 519.17 L188.82 519.47 L190.38 519.75 L191.95 520.02 L193.52 520.27 L195.10 520.51 L196.69 520.74 L198.28 520.96 L199.87 521.17 L201.47 521.37 L203.07 521.57 L204.67 521.75 L206.28 521.93 L207.89 522.11 L209.50 522.28 L211.12 522.44 L212.73 522.60 L214.35 522.76 L215.97 522.92 L217.58 523.07 L219.20 523.23 L220.81 523.38 L222.43 523.54 L224.04 523.70 L225.65 523.86 L227.26 524.03 L228.87 524.20 L230.48 524.37 L232.08 524.55 L233.67 524.74 L235.27 524.93 L236.86 525.13 L238.45 525.34 L240.03 525.55 L241.61 525.76 L243.19 525.98 L244.77 526.21 L246.34 526.44 L247.91 526.68 L249.48 526.92 L251.04 527.16 L252.60 527.41 L254.17 527.67 L255.72 527.92 L257.28 528.18 L258.83 528.45 L260.38 528.72 L261.93 528.99 L263.48 529.27 L265.03 529.54 L266.57 529.82 L268.12 530.11 L269.66 530.40 L271.20 530.68 L272.74 530.98 L274.27 531.27 L275.81 531.57 L277.34 531.86 L278.88 532.16 L280.41 532.46 L281.94 532.76 L283.47 533.07 L285.01 533.37 L286.54 533.68 L288.06 533.98 L289.59 534.29 L291.12 534.60 L292.65 534.91 L294.18 535.21 L295.71 535.52 L297.23 535.83 L298.76 536.14 L300.29 536.44 L301.82 536.75 L303.35 537.06 L304.88 537.36 L306.40 537.66 L307.93 537.97 L309.46 538.27 L311.00 538.57 L312.53 538.87 L314.06 539.16 L315.59 539.46 L317.13 539.75 L318.66 540.04 L320.20 540.33 L321.74 540.61 L323.28 540.89 L324.82 541.17 L326.36 541.45 L327.90 541.73 L329.44 542.00 L330.99 542.28 L332.53 542.55 L334.08 542.82 L335.62 543.09 L337.17 543.35 L338.72 543.62 L340.27 543.88 L341.82 544.14 L343.37 544.40 L344.92 544.66 L346.48 544.92 L348.03 545.18 L349.58 545.44 L351.14 545.70 L352.69 545.95 L354.25 546.21 L355.80 546.46 L357.36 546.72 L358.91 546.97 L360.47 547.23 L362.03 547.48 L363.59 547.74 L365.14 547.99 L366.70 548.24 L368.26 548.50 L369.82 548.75 L371.38 549.01 L372.94 549.27 L374.50 549.52 L376.06 549.78 L377.62 550.04 L379.18 550.30 L380.74 550.56 L382.30 550.82 L383.86 551.08 L385.42 551.34 L386.98 551.61 L388.54 551.87 L390.10 552.14 L391.66 552.41 L393.22 552.68 L394.78 552.95 L396.34 553.23 L397.89 553.50 L399.45 553.78 L401.01 554.06 L402.57 554.34 L404.13 554.63 L405.68 554.92 L407.24 555.20 L408.79 555.50 L410.35 555.79 L411.90 556.09 L413.46 556.39 L415.01 556.69 L416.57 557.00 L418.12 557.31 L419.67 557.62 L421.22 557.93 L422.77 558.25 L424.32 558.57 L425.87 558.90 L427.42 559.23 L428.97 559.56 L430.51 559.89 L432.06 560.23 L433.60 560.58 L435.15 560.93 L436.69 561.28 L438.23 561.64 L439.76 562.01 L441.30 562.38 L442.83 562.76 L444.36 563.14 L445.89 563.53 L447.42 563.93 L448.94 564.34 L450.46 564.75 L451.98 565.17 L453.49 565.61 L455.00 566.05 L456.50 566.50 L458.00 566.96 L459.50 567.43 L460.99 567.91 L462.48 568.40 L463.96 568.91 L465.44 569.42 L466.91 569.95 L468.38 570.49 L469.84 571.04 L471.30 571.61 L472.75 572.18 L474.19 572.78 L475.63 573.38 L477.06 574.00 L478.49 574.64 L479.91 575.29 L481.32 575.96 L482.72 576.64 L484.12 577.33 L485.51 578.05 L486.89 578.78 L488.26 579.53 L489.63 580.29 L490.99 581.08 L492.34 581.88 L493.68 582.70 L495.01 583.54 L496.33 584.40 L497.65 585.27 L498.95 586.17 L500.24 587.09 L501.53 588.03 L502.81 588.99 L504.07 589.97 L505.33 590.97 L506.57 592.00 L507.80 593.05 L509.03 594.12 L510.24 595.21 L511.44 596.33" fill="none" stroke="#000" stroke-width="2.4" stroke-dasharray="9.2 5.1" clip-path="url(#c3)"/>
<path d="M169.3 423.6V435.1M163.3 423.6h12M163.3 435.1h12M175 457.1V460.5M168.7 457.1h12.6M168.7 460.5h12.6M204.1 442.5V501.5M198.1 442.5h12M198.1 501.5h12M215.1 433.4V495.3M209.1 433.4h12M209.1 495.3h12M307.8 524.9V534.2M301.6 524.9h12.4M301.6 534.2h12.4M394.7 550.3V564.8M388.9 550.3h11.6M388.9 564.8h11.6" fill="none" stroke="#000" stroke-width="1.5"/>
<path d="M89.0 4.1H511.2V623.6H89.0ZM89.0 211.0H511.2M89.0 417.5H511.2" fill="none" stroke="#000" stroke-width="1.65"/>
<path d="M89.00 4.1v12.5M89.00 211.0v-12.5M112.46 4.1v6.6M112.46 211.0v-6.6M135.91 4.1v12.5M135.91 211.0v-12.5M159.37 4.1v6.6M159.37 211.0v-6.6M182.82 4.1v12.5M182.82 211.0v-12.5M206.28 4.1v6.6M206.28 211.0v-6.6M229.73 4.1v12.5M229.73 211.0v-12.5M253.19 4.1v6.6M253.19 211.0v-6.6M276.64 4.1v12.5M276.64 211.0v-12.5M300.10 4.1v6.6M300.10 211.0v-6.6M323.56 4.1v12.5M323.56 211.0v-12.5M347.01 4.1v6.6M347.01 211.0v-6.6M370.47 4.1v12.5M370.47 211.0v-12.5M393.92 4.1v6.6M393.92 211.0v-6.6M417.38 4.1v12.5M417.38 211.0v-12.5M440.83 4.1v6.6M440.83 211.0v-6.6M464.29 4.1v12.5M464.29 211.0v-12.5M487.74 4.1v6.6M487.74 211.0v-6.6M511.20 4.1v12.5M511.20 211.0v-12.5M89.00 211.0v12.5M89.00 417.5v-12.5M112.46 211.0v6.6M112.46 417.5v-6.6M135.91 211.0v12.5M135.91 417.5v-12.5M159.37 211.0v6.6M159.37 417.5v-6.6M182.82 211.0v12.5M182.82 417.5v-12.5M206.28 211.0v6.6M206.28 417.5v-6.6M229.73 211.0v12.5M229.73 417.5v-12.5M253.19 211.0v6.6M253.19 417.5v-6.6M276.64 211.0v12.5M276.64 417.5v-12.5M300.10 211.0v6.6M300.10 417.5v-6.6M323.56 211.0v12.5M323.56 417.5v-12.5M347.01 211.0v6.6M347.01 417.5v-6.6M370.47 211.0v12.5M370.47 417.5v-12.5M393.92 211.0v6.6M393.92 417.5v-6.6M417.38 211.0v12.5M417.38 417.5v-12.5M440.83 211.0v6.6M440.83 417.5v-6.6M464.29 211.0v12.5M464.29 417.5v-12.5M487.74 211.0v6.6M487.74 417.5v-6.6M511.20 211.0v12.5M511.20 417.5v-12.5M89.00 623.6v-12.5M112.46 623.6v-6.6M135.91 623.6v-12.5M159.37 623.6v-6.6M182.82 623.6v-12.5M206.28 623.6v-6.6M229.73 623.6v-12.5M253.19 623.6v-6.6M276.64 623.6v-12.5M300.10 623.6v-6.6M323.56 623.6v-12.5M347.01 623.6v-6.6M370.47 623.6v-12.5M393.92 623.6v-6.6M417.38 623.6v-12.5M440.83 623.6v-6.6M464.29 623.6v-12.5M487.74 623.6v-6.6M511.20 623.6v-12.5M89.0 23.15h12.5M511.2 23.15h-12.5M89.0 54.50h12.5M511.2 54.50h-12.5M89.0 85.85h12.5M511.2 85.85h-12.5M89.0 117.20h12.5M511.2 117.20h-12.5M89.0 148.55h12.5M511.2 148.55h-12.5M89.0 179.90h12.5M511.2 179.90h-12.5M89.0 13.71h6.6M511.2 13.71h-6.6M89.0 8.19h6.6M511.2 8.19h-6.6M89.0 45.06h6.6M511.2 45.06h-6.6M89.0 39.54h6.6M511.2 39.54h-6.6M89.0 35.63h6.6M511.2 35.63h-6.6M89.0 32.59h6.6M511.2 32.59h-6.6M89.0 30.10h6.6M511.2 30.10h-6.6M89.0 28.01h6.6M511.2 28.01h-6.6M89.0 26.19h6.6M511.2 26.19h-6.6M89.0 24.58h6.6M511.2 24.58h-6.6M89.0 76.41h6.6M511.2 76.41h-6.6M89.0 70.89h6.6M511.2 70.89h-6.6M89.0 66.98h6.6M511.2 66.98h-6.6M89.0 63.94h6.6M511.2 63.94h-6.6M89.0 61.45h6.6M511.2 61.45h-6.6M89.0 59.36h6.6M511.2 59.36h-6.6M89.0 57.54h6.6M511.2 57.54h-6.6M89.0 55.93h6.6M511.2 55.93h-6.6M89.0 107.76h6.6M511.2 107.76h-6.6M89.0 102.24h6.6M511.2 102.24h-6.6M89.0 98.33h6.6M511.2 98.33h-6.6M89.0 95.29h6.6M511.2 95.29h-6.6M89.0 92.80h6.6M511.2 92.80h-6.6M89.0 90.71h6.6M511.2 90.71h-6.6M89.0 88.89h6.6M511.2 88.89h-6.6M89.0 87.28h6.6M511.2 87.28h-6.6M89.0 139.11h6.6M511.2 139.11h-6.6M89.0 133.59h6.6M511.2 133.59h-6.6M89.0 129.68h6.6M511.2 129.68h-6.6M89.0 126.64h6.6M511.2 126.64h-6.6M89.0 124.15h6.6M511.2 124.15h-6.6M89.0 122.06h6.6M511.2 122.06h-6.6M89.0 120.24h6.6M511.2 120.24h-6.6M89.0 118.63h6.6M511.2 118.63h-6.6M89.0 170.46h6.6M511.2 170.46h-6.6M89.0 164.94h6.6M511.2 164.94h-6.6M89.0 161.03h6.6M511.2 161.03h-6.6M89.0 157.99h6.6M511.2 157.99h-6.6M89.0 155.50h6.6M511.2 155.50h-6.6M89.0 153.41h6.6M511.2 153.41h-6.6M89.0 151.59h6.6M511.2 151.59h-6.6M89.0 149.98h6.6M511.2 149.98h-6.6M89.0 201.81h6.6M511.2 201.81h-6.6M89.0 196.29h6.6M511.2 196.29h-6.6M89.0 192.38h6.6M511.2 192.38h-6.6M89.0 189.34h6.6M511.2 189.34h-6.6M89.0 186.85h6.6M511.2 186.85h-6.6M89.0 184.76h6.6M511.2 184.76h-6.6M89.0 182.94h6.6M511.2 182.94h-6.6M89.0 181.33h6.6M511.2 181.33h-6.6M89.0 245.00h12.5M511.2 245.00h-12.5M89.0 358.20h12.5M511.2 358.20h-12.5M89.0 403.25h6.6M511.2 403.25h-6.6M89.0 392.28h6.6M511.2 392.28h-6.6M89.0 383.31h6.6M511.2 383.31h-6.6M89.0 375.73h6.6M511.2 375.73h-6.6M89.0 369.17h6.6M511.2 369.17h-6.6M89.0 363.38h6.6M511.2 363.38h-6.6M89.0 324.12h6.6M511.2 324.12h-6.6M89.0 304.19h6.6M511.2 304.19h-6.6M89.0 290.05h6.6M511.2 290.05h-6.6M89.0 279.08h6.6M511.2 279.08h-6.6M89.0 270.11h6.6M511.2 270.11h-6.6M89.0 262.53h6.6M511.2 262.53h-6.6M89.0 255.97h6.6M511.2 255.97h-6.6M89.0 250.18h6.6M511.2 250.18h-6.6M89.0 446.94h12.5M511.2 446.94h-12.5M89.0 476.38h12.5M511.2 476.38h-12.5M89.0 505.82h12.5M511.2 505.82h-12.5M89.0 535.26h12.5M511.2 535.26h-12.5M89.0 564.70h12.5M511.2 564.70h-12.5M89.0 594.14h12.5M511.2 594.14h-12.5M89.0 424.86h6.6M511.2 424.86h-6.6M89.0 432.22h6.6M511.2 432.22h-6.6M89.0 439.58h6.6M511.2 439.58h-6.6M89.0 454.30h6.6M511.2 454.30h-6.6M89.0 461.66h6.6M511.2 461.66h-6.6M89.0 469.02h6.6M511.2 469.02h-6.6M89.0 483.74h6.6M511.2 483.74h-6.6M89.0 491.10h6.6M511.2 491.10h-6.6M89.0 498.46h6.6M511.2 498.46h-6.6M89.0 513.18h6.6M511.2 513.18h-6.6M89.0 520.54h6.6M511.2 520.54h-6.6M89.0 527.90h6.6M511.2 527.90h-6.6M89.0 542.62h6.6M511.2 542.62h-6.6M89.0 549.98h6.6M511.2 549.98h-6.6M89.0 557.34h6.6M511.2 557.34h-6.6M89.0 572.06h6.6M511.2 572.06h-6.6M89.0 579.42h6.6M511.2 579.42h-6.6M89.0 586.78h6.6M511.2 586.78h-6.6M89.0 601.50h6.6M511.2 601.50h-6.6M89.0 608.86h6.6M511.2 608.86h-6.6M89.0 616.22h6.6M511.2 616.22h-6.6" fill="none" stroke="#000" stroke-width="1.5"/>
<rect x="294.0" y="18.8" width="181.2" height="81.5" fill="#fff" stroke="#000" stroke-width="1.5"/>
<path d="M301 34.2H326" stroke="#000" stroke-width="2.4" stroke-dasharray="9.5 5"/>
<path d="M301 59.4H326" stroke="#000" stroke-width="1.4" stroke-dasharray="4.8 2.6"/>
<path d="M301 84.7H326" stroke="#000" stroke-width="1.5"/>
<text x="338.4" y="37.1" font-family="'Liberation Serif', serif" font-size="17.2">M=1.05 M</text><circle cx="417.5" cy="40.9" r="2.9" fill="none" stroke="#000" stroke-width="0.95"/><circle cx="417.5" cy="40.9" r="0.8" fill="#000"/><text x="425.2" y="37.1" font-family="'Liberation Serif', serif" font-size="17.2">+ hot</text>
<text x="338.4" y="61.6" font-family="'Liberation Serif', serif" font-size="17.2">M=0.65 M</text><circle cx="417.5" cy="65.4" r="2.9" fill="none" stroke="#000" stroke-width="0.95"/><circle cx="417.5" cy="65.4" r="0.8" fill="#000"/><text x="425.2" y="61.6" font-family="'Liberation Serif', serif" font-size="17.2">+ hot</text>
<text x="338.4" y="87.3" font-family="'Liberation Serif', serif" font-size="17.2">M=0.65 M</text><circle cx="417.5" cy="91.1" r="2.9" fill="none" stroke="#000" stroke-width="0.95"/><circle cx="417.5" cy="91.1" r="0.8" fill="#000"/><text x="425.2" y="87.3" font-family="'Liberation Serif', serif" font-size="17.2">+ cool</text>
<rect x="293.7" y="437.7" width="153.7" height="24.1" fill="#fff" stroke="#000" stroke-width="1.5"/>
<path d="M302 449.8H326.8" stroke="#dcdfe0" stroke-width="4"/>
<text x="339.6" y="455.8" font-family="'Liberation Serif', serif" font-size="17.5">Accretion disk</text>
<text font-family="'Liberation Serif', serif" font-size="17.5"><tspan x="128" y="19.8">5</tspan><tspan x="149.6" y="43.4">6 = log(t/yr)</tspan><tspan x="180.8" y="75">7</tspan><tspan x="236.2" y="112.4">8</tspan><tspan x="349" y="151.5">9</tspan><tspan x="477" y="204">10</tspan></text>
<text x="295.6" y="302.7" font-family="'Liberation Serif', serif" font-size="17.5">DBV strip</text>
<text x="293.2" y="512.5" font-family="'Liberation Serif', serif" font-size="17.5">GP Com</text>
<text x="389.8" y="540.8" font-family="'Liberation Serif', serif" font-size="17.5">CE-315</text>
<text x="83.3" y="33.1" text-anchor="end" font-family="'Liberation Serif', serif" font-size="18">10<tspan font-size="12.5" dx="-0.8" dy="-10.6">-7</tspan></text><text x="83.3" y="64.5" text-anchor="end" font-family="'Liberation Serif', serif" font-size="18">10<tspan font-size="12.5" dx="-0.8" dy="-10.6">-8</tspan></text><text x="83.3" y="95.8" text-anchor="end" font-family="'Liberation Serif', serif" font-size="18">10<tspan font-size="12.5" dx="-0.8" dy="-10.6">-9</tspan></text><text x="83.3" y="127.2" text-anchor="end" font-family="'Liberation Serif', serif" font-size="18">10<tspan font-size="12.5" dx="-0.8" dy="-10.6">-10</tspan></text><text x="83.3" y="158.6" text-anchor="end" font-family="'Liberation Serif', serif" font-size="18">10<tspan font-size="12.5" dx="-0.8" dy="-10.6">-11</tspan></text><text x="83.3" y="189.9" text-anchor="end" font-family="'Liberation Serif', serif" font-size="18">10<tspan font-size="12.5" dx="-0.8" dy="-10.6">-12</tspan></text><text x="83.3" y="254.6" text-anchor="end" font-family="'Liberation Serif', serif" font-size="18">10<tspan font-size="12.5" dx="-0.6" dy="-10.3">5</tspan></text><text x="83.3" y="367.8" text-anchor="end" font-family="'Liberation Serif', serif" font-size="18">10<tspan font-size="12.5" dx="-0.6" dy="-10.3">4</tspan></text><text x="83.5" y="424.3" text-anchor="end" font-family="'Liberation Serif', serif" font-size="18">4</text><text x="83.5" y="453.7" text-anchor="end" font-family="'Liberation Serif', serif" font-size="18">6</text><text x="83.5" y="483.2" text-anchor="end" font-family="'Liberation Serif', serif" font-size="18">8</text><text x="83.5" y="512.6" text-anchor="end" font-family="'Liberation Serif', serif" font-size="18">10</text><text x="83.5" y="542.1" text-anchor="end" font-family="'Liberation Serif', serif" font-size="18">12</text><text x="83.5" y="571.5" text-anchor="end" font-family="'Liberation Serif', serif" font-size="18">14</text><text x="83.5" y="600.9" text-anchor="end" font-family="'Liberation Serif', serif" font-size="18">16</text><text x="83.5" y="630.4" text-anchor="end" font-family="'Liberation Serif', serif" font-size="18">18</text><text x="89.0" y="642.6" text-anchor="middle" font-family="'Liberation Serif', serif" font-size="18">0</text><text x="135.9" y="642.6" text-anchor="middle" font-family="'Liberation Serif', serif" font-size="18">10</text><text x="182.8" y="642.6" text-anchor="middle" font-family="'Liberation Serif', serif" font-size="18">20</text><text x="229.7" y="642.6" text-anchor="middle" font-family="'Liberation Serif', serif" font-size="18">30</text><text x="276.6" y="642.6" text-anchor="middle" font-family="'Liberation Serif', serif" font-size="18">40</text><text x="323.6" y="642.6" text-anchor="middle" font-family="'Liberation Serif', serif" font-size="18">50</text><text x="370.5" y="642.6" text-anchor="middle" font-family="'Liberation Serif', serif" font-size="18">60</text><text x="417.4" y="642.6" text-anchor="middle" font-family="'Liberation Serif', serif" font-size="18">70</text><text x="464.3" y="642.6" text-anchor="middle" font-family="'Liberation Serif', serif" font-size="18">80</text><text x="511.2" y="642.6" text-anchor="middle" font-family="'Liberation Serif', serif" font-size="18">90</text>
<text x="252.4" y="661" font-family="'Liberation Serif', serif" font-size="17.5">P<tspan font-size="13.2" dy="6.6">orb</tspan><tspan dy="-6.6" dx="-1.1"> (minutes)</tspan></text>
<g transform="translate(33.3 183) rotate(-90)" font-family="'Liberation Serif', serif" font-size="25.5"><text x="0" y="1.6" font-size="26">&lt;</text><text x="15.2" y="0">M</text><text x="37.2" y="1.6" font-size="26">&gt;</text><circle cx="24.8" cy="-20.3" r="1.35" fill="#000"/><text x="58.6" y="0">(</text><text x="67.4" y="0">M</text><circle cx="95" cy="4.9" r="4.4" fill="none" stroke="#000" stroke-width="1.1"/><circle cx="95" cy="4.9" r="1.1" fill="#000"/><text x="107" y="0">yr</text><text x="128.3" y="-15.4" font-size="18.5">-1</text><text x="143.2" y="0">)</text></g>
<text transform="translate(43 352.4) rotate(-90)" font-family="'Liberation Serif', serif" font-size="26.5">T<tspan font-size="18" dy="10.7">eff</tspan><tspan dy="-10.7" font-size="25.5"> (K)</tspan></text>
<text transform="translate(49.3 538.3) rotate(-90)" font-family="'Liberation Serif', serif" font-size="26">M<tspan font-size="18" dy="10.4">V</tspan></text>
</svg></body></html>
